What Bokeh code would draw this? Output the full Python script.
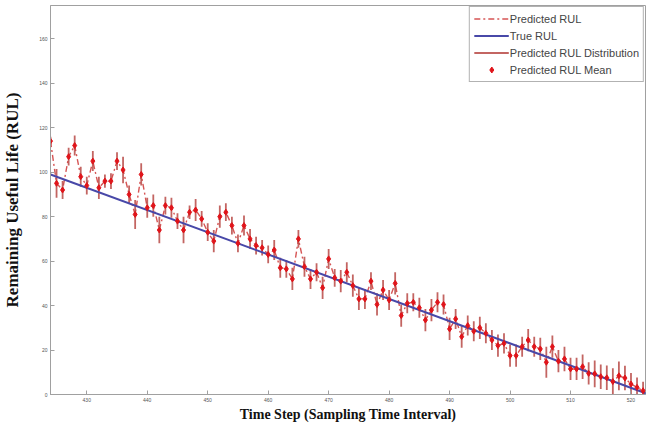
from bokeh.plotting import figure
from bokeh.models import (ColumnDataSource, FixedTicker, Legend, LegendItem, Range1d)
from bokeh.embed import file_html
from bokeh.resources import INLINE

# ---- data ----
time_steps = list(range(424, 523))
pred_rul = [114, 95, 92, 107, 112, 98, 94, 105, 93, 96,
            96, 105, 101, 90, 81, 99, 84, 85, 74, 85,
            84, 78, 74, 82, 83, 79, 73, 69, 80, 82,
            76, 68, 76, 70, 67, 66, 63, 65, 57, 56.5,
            52, 70, 57.5, 52, 55, 48, 61, 52.5, 51, 55,
            49, 43, 43, 51, 40.5, 47, 42.5, 50, 35.5, 41,
            41.5, 39, 33.5, 38, 41.5, 40.5, 29.5, 34, 26, 31,
            28.5, 30, 27.5, 24.5, 22, 23, 17.5, 17.5, 21.5, 24.5,
            21.5, 20.5, 14.5, 21.5, 15, 16, 11.5, 11.5, 12.5, 9.5,
            9.3, 8, 7.5, 5.8, 8.4, 7.4, 4.7, 3.2, 1.7]
pred_err = [2, 6.5, 4, 4, 4.5, 4.5, 4, 4.5, 5, 3,
            3.5, 4, 6, 4, 6.5, 5, 4.5, 5, 6, 4,
            4.5, 3.5, 6, 3, 5, 3.5, 4, 5, 5, 4,
            4, 4, 4.5, 4.5, 4, 3.5, 4, 4.5, 4.5, 4,
            5, 4, 4.5, 4.5, 4, 5, 4.5, 4, 5, 4.5,
            5, 5, 4.5, 4, 5, 4.5, 4.5, 5, 5, 4.5,
            4, 4.5, 5, 5, 4.5, 4.5, 5, 4.5, 5, 4.5,
            4.5, 5, 4.5, 4.5, 5, 4.5, 5, 5, 4.5, 5,
            4.5, 5, 7, 5, 5, 5.5, 5, 5, 5.5, 5,
            6, 5.5, 5.5, 6, 6.5, 5.5, 5, 4.5, 4]
true_t = [424, 523]
true_rul = [99, 0]
x_ticks = [430, 440, 450, 460, 470, 480, 490, 500, 510, 520]
y_ticks = [0, 20, 40, 60, 80, 100, 120, 140, 160]

lo = [m - e for m, e in zip(pred_rul, pred_err)]
hi = [m + e for m, e in zip(pred_rul, pred_err)]
src = ColumnDataSource(dict(t=time_steps, m=pred_rul, lo=lo, hi=hi))

p = figure(width=646, height=430, output_backend="svg", toolbar_location=None,
           x_range=Range1d(424, 522.4), y_range=Range1d(0, 175),
           min_border_left=49, min_border_right=1, min_border_top=5, min_border_bottom=36,
           background_fill_color="white", border_fill_color="white")
p.grid.visible = False
p.outline_line_color = "#a0a0a0"

GRAY = "#a0a0a0"
for ax in (p.xaxis[0], p.yaxis[0]):
    ax.axis_line_color = GRAY
    ax.major_tick_line_color = GRAY
    ax.minor_tick_line_color = None
    ax.major_tick_in = 4
    ax.major_tick_out = 0
    ax.major_label_text_font_size = "5px"
    ax.major_label_text_color = "#555555"
    ax.major_label_standoff = 3
    ax.axis_label_text_font = "Liberation Serif"
    ax.axis_label_text_font_style = "bold"
    ax.axis_label_text_color = "#111111"

p.xaxis[0].ticker = FixedTicker(ticks=x_ticks)
p.yaxis[0].ticker = FixedTicker(ticks=y_ticks)
p.xaxis[0].axis_label = "Time Step (Sampling Time Interval)"
p.xaxis[0].axis_label_text_font_size = "14px"
p.xaxis[0].axis_label_standoff = 2
p.yaxis[0].axis_label = "Remaining Useful Life (RUL)"
p.yaxis[0].axis_label_text_font_size = "17px"
p.yaxis[0].axis_label_standoff = 14

r_pred = p.line("t", "m", source=src, line_color="#d65454", line_width=1.4, line_dash="6 3 2 3")
r_dist = p.segment("t", "lo", "t", "hi", source=src, line_color="#b84a46", line_width=1.8, line_alpha=0.85)
r_true = p.line(true_t, true_rul, line_color="#4848a8", line_width=2)
r_mean = p.scatter("t", "m", source=src, marker="diamond", size=6, fill_color="#e0141a",
                   line_color="#e0141a")

legend = Legend(items=[LegendItem(label="Predicted RUL", renderers=[r_pred]),
                       LegendItem(label="True RUL", renderers=[r_true]),
                       LegendItem(label="Predicted RUL Distribution", renderers=[r_dist]),
                       LegendItem(label="Predicted RUL Mean", renderers=[r_mean])],
                location="top_right", margin=1, padding=4, spacing=2,
                label_text_font="Liberation Sans", label_text_font_size="11px",
                label_height=15, glyph_height=15, glyph_width=35, label_standoff=1,
                border_line_color="#666666", border_line_width=1,
                background_fill_alpha=1.0)
p.add_layout(legend)

open("out.html", "w").write(file_html(p, INLINE))
